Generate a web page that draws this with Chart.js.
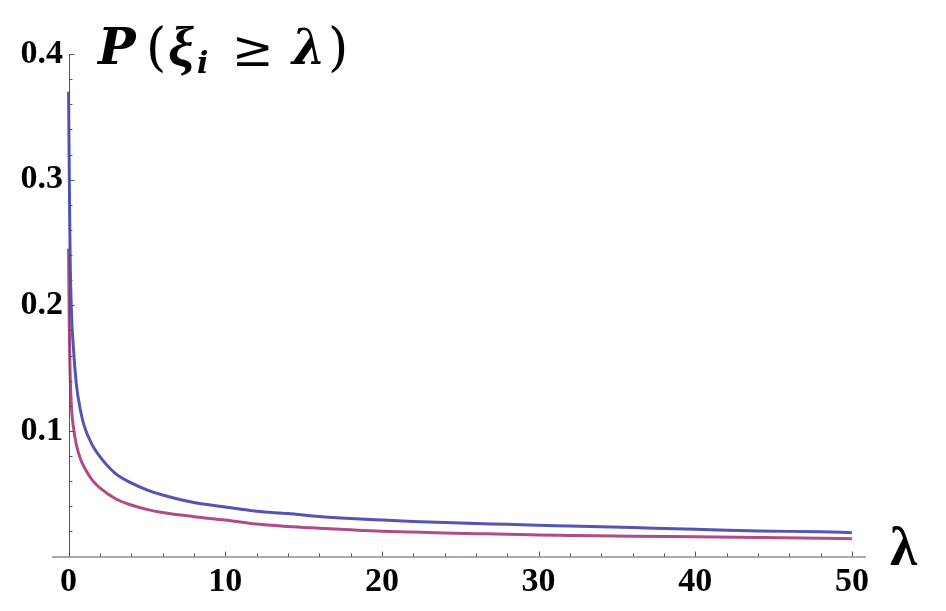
<!DOCTYPE html>
<html>
<head>
<meta charset="utf-8">
<script src="https://cdn.jsdelivr.net/npm/chart.js@4/dist/chart.umd.min.js"></script>
<style>
  html, body { margin: 0; padding: 0; background: #fff; }
  #wrap { position: relative; width: 946px; height: 611px; }
  #chart { position: absolute; left: 0; top: 0; }
  .lbl { position: absolute; font-family: "DejaVu Serif", serif; font-weight: bold; color: #000; line-height: 1; white-space: nowrap; }
  .it { font-style: italic; }
</style>
</head>
<body>
<div id="wrap">
  <canvas id="chart" width="946" height="611"></canvas>
  <div class="lbl it" style="left:98px; top:22px; font-size:50px;">P</div>
  <div class="lbl" style="left:146px; top:21px; font-size:52px; font-weight:normal;">(</div>
  <div class="lbl it" style="left:168px; top:18px; font-size:58px; font-family:'Liberation Serif', serif;">ξ</div>
  <div class="lbl it" style="left:197px; top:48px; font-size:30px;">i</div>
  <div class="lbl" style="left:232px; top:24px; font-size:50px; font-weight:normal;">≥</div>
  <div class="lbl it" style="left:292px; top:23px; font-size:48px;">λ</div>
  <div class="lbl" style="left:328px; top:21px; font-size:52px; font-weight:normal;">)</div>
  <div class="lbl" style="left:890px; top:519px; font-size:55px; font-family:'Liberation Serif', serif;">λ</div>
</div>
<script>
var lambdas = [0, 0.05, 0.1, 0.2, 0.3, 0.5, 0.75, 1, 1.5, 2, 3, 4, 5, 6, 8, 10, 12, 14, 16, 18, 20, 22, 24, 26, 28, 30, 32, 36, 40, 44, 48, 50];
var upper = [0.37, 0.30, 0.24, 0.19, 0.168, 0.137, 0.117, 0.104, 0.089, 0.0795, 0.066, 0.0586, 0.053, 0.049, 0.043, 0.0394, 0.036, 0.0342, 0.0318, 0.0302, 0.029, 0.0279, 0.027, 0.0262, 0.0256, 0.0248, 0.0243, 0.023, 0.0217, 0.0203, 0.0197, 0.019];
var lower = [0.245, 0.18, 0.145, 0.116, 0.104, 0.089, 0.078, 0.071, 0.061, 0.0546, 0.046, 0.041, 0.0375, 0.035, 0.0317, 0.029, 0.0258, 0.0239, 0.0225, 0.0212, 0.0201, 0.0195, 0.0187, 0.0182, 0.0177, 0.0171, 0.0168, 0.0161, 0.0157, 0.0152, 0.0146, 0.0142];
var xTicks = [0, 10, 20, 30, 40, 50];
var yTicks = [0.1, 0.2, 0.3, 0.4];

function pts(ys){
	return lambdas.map(function(x, i){ return {x: x, y: ys[i]}; });
}

// mathematica style axes: crossing at origin, inward ticks, minor ticks
var axesPlugin = {
	id: "axesPlugin",
	afterDraw: function(chart){
		var ctx = chart.ctx, xs = chart.scales.x, ys = chart.scales.y;
		var x0 = Math.round(xs.getPixelForValue(0)) + 0.5, y0 = ys.getPixelForValue(0);
		ctx.save();
		ctx.strokeStyle = "#555";
		ctx.lineWidth = 1;
		ctx.beginPath();
		ctx.moveTo(xs.getPixelForValue(-1.05), y0 + 0.5);
		ctx.lineTo(xs.getPixelForValue(50.9), y0 + 0.5);
		ctx.moveTo(x0, y0);
		ctx.lineTo(x0, ys.getPixelForValue(0.4));
		for(var v = 0; v <= 50; v += 2){
			var px = Math.round(xs.getPixelForValue(v)) + 0.5;
			var len = (v % 10 == 0) ? 5 : 3;
			ctx.moveTo(px, y0);
			ctx.lineTo(px, y0 - len);
		}
		for(var k = 1; k <= 20; k++){
			var py = Math.round(ys.getPixelForValue(k * 0.02)) + 0.5;
			var l2 = (k % 5 == 0) ? 5 : 3;
			ctx.moveTo(x0, py);
			ctx.lineTo(x0 + l2, py);
		}
		ctx.stroke();
		ctx.restore();
	}
};

new Chart(document.getElementById("chart"), {
	type: "line",
	data: {
		datasets: [{
			label: "upper",
			data: pts(upper),
			borderColor: "rgb(84, 84, 180)",
			borderWidth: 3,
			pointRadius: 0,
			cubicInterpolationMode: "monotone",
			fill: false
		}, {
			label: "lower",
			data: pts(lower),
			borderColor: "rgb(176, 74, 136)",
			borderWidth: 3,
			pointRadius: 0,
			cubicInterpolationMode: "monotone",
			fill: false
		}]
	},
	options: {
		responsive: false,
		animation: false,
		layout: { padding: { top: 54, right: 80, left: 0, bottom: 0 } },
		plugins: { legend: { display: false }, tooltip: { enabled: false } },
		scales: {
			x: {
				type: "linear",
				min: -0.29,
				max: 50.9,
				grid: { display: false, drawTicks: false },
				border: { display: false },
				afterFit: function(s){ s.height = 54.5; },
				afterBuildTicks: function(s){ s.ticks = xTicks.map(function(v){ return {value: v}; }); },
				ticks: {
					padding: 5,
					color: "#000",
					maxRotation: 0,
					font: { family: "Liberation Serif", weight: "bold", size: 34 },
					callback: function(v){ return String(v); }
				}
			},
			y: {
				type: "linear",
				min: 0,
				max: 0.4,
				grid: { display: false, drawTicks: false },
				border: { display: false },
				afterFit: function(s){ s.width = 64; },
				afterBuildTicks: function(s){ s.ticks = yTicks.map(function(v){ return {value: v}; }); },
				ticks: {
					padding: 1,
					color: "#000",
					font: { family: "Liberation Serif", weight: "bold", size: 34 },
					callback: function(v){ return v.toFixed(1); }
				}
			}
		}
	},
	plugins: [axesPlugin]
});
</script>
</body>
</html>
